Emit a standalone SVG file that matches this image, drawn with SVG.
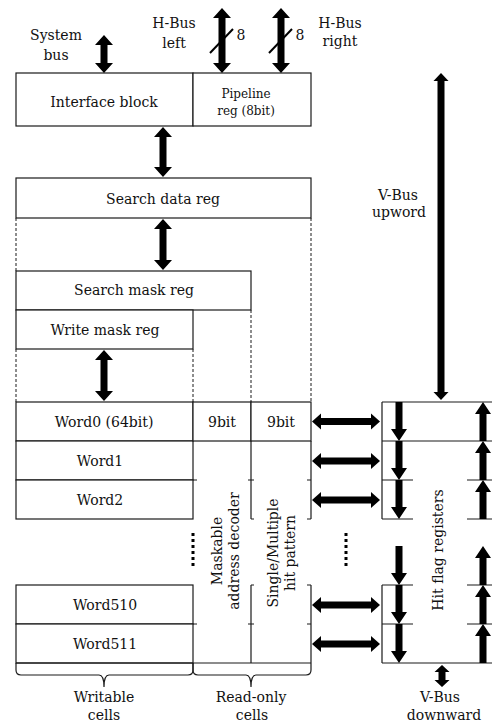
<svg xmlns="http://www.w3.org/2000/svg" xmlns:xlink="http://www.w3.org/1999/xlink" width="492" height="724" viewBox="0 0 492 724">
<style>
  .box { fill: #fff; stroke: #1a1a1a; stroke-width: 1.2; }
  .ln { fill: none; stroke: #1a1a1a; stroke-width: 1.2; }
  .dash { fill: none; stroke: #1a1a1a; stroke-width: 1; stroke-dasharray: 3 2; }
  .dots { fill: none; stroke: #000; stroke-width: 3; stroke-dasharray: 3 3; }
  .arr { fill: #000; stroke: none; }
  .slash { stroke: #000; stroke-width: 2; }
  text { font-family: "DejaVu Serif", "Liberation Serif", serif; font-size: 14px; fill: #111; }
  .c { text-anchor: middle; }
  .sm { font-size: 12px; }
</style>
<defs>
  <path id="harr" d="M0,0 L9,-8 L9,-3.5 L59,-3.5 L59,-8 L68,0 L59,8 L59,3.5 L9,3.5 L9,8 Z"/>
  <path id="darr" d="M-3.5,0 H3.5 V27 H8 L0,39 L-8,27 H-3.5 Z"/>
  <path id="uarr" d="M0,0 L8,12 H3.5 V39 H-3.5 V12 H-8 Z"/>
</defs>
<rect width="492" height="724" fill="#fff"/>

<g id="interface-block">
  <rect class="box" x="16" y="73" width="177" height="53"/>
  <text class="c" x="104" y="107">Interface block</text>
</g>
<g id="pipeline-reg">
  <rect class="box" x="193" y="73" width="118" height="53"/>
  <text class="c sm" x="246" y="98">Pipeline</text>
  <text class="c sm" x="246" y="115">reg (8bit)</text>
</g>
<g id="search-data-reg">
  <rect class="box" x="16" y="178" width="295" height="40"/>
  <text class="c" x="163" y="204">Search data reg</text>
  <line class="dash" x1="16" y1="218" x2="16" y2="271"/>
  <line class="dash" x1="311" y1="218" x2="311" y2="402"/>
</g>
<g id="search-mask-reg">
  <rect class="box" x="16" y="271" width="235" height="39"/>
  <text class="c" x="134" y="295">Search mask reg</text>
  <line class="dash" x1="251" y1="310" x2="251" y2="402"/>
</g>
<g id="write-mask-reg">
  <rect class="box" x="16" y="310" width="177" height="39"/>
  <text class="c" x="105" y="335">Write mask reg</text>
  <line class="dash" x1="16" y1="349" x2="16" y2="402"/>
  <line class="dash" x1="193" y1="349" x2="193" y2="402"/>
</g>

<g id="word-cells">
  <rect class="box" x="16" y="402" width="177" height="39"/>
  <text class="c" x="104" y="427">Word0 (64bit)</text>
  <rect class="box" x="16" y="441" width="177" height="39"/>
  <text class="c" x="100" y="466">Word1</text>
  <rect class="box" x="16" y="480" width="177" height="39"/>
  <text class="c" x="100" y="505">Word2</text>
  <rect class="box" x="16" y="585" width="177" height="39"/>
  <text class="c" x="105" y="610">Word510</text>
  <rect class="box" x="16" y="624" width="177" height="39"/>
  <text class="c" x="105" y="649">Word511</text>
  <line class="dots" x1="193" y1="533" x2="193" y2="569"/>
</g>

<g id="decoder">
  <rect class="box" x="193" y="402" width="58" height="39"/>
  <text class="c" x="222" y="427">9bit</text>
  <line class="ln" x1="251" y1="441" x2="251" y2="519"/>
  <line class="ln" x1="251" y1="585" x2="251" y2="663"/>
  <path class="ln" d="M193,480 H197 M248,480 H254 M251,519 H254 M251,585 H254 M193,624 H197 M248,624 H254"/>
  <text transform="translate(222,551) rotate(-90)" class="c">Maskable</text>
  <text transform="translate(239,551) rotate(-90)" class="c">address decoder</text>
</g>

<g id="hit-pattern">
  <rect class="box" x="251" y="402" width="60" height="39"/>
  <text class="c" x="281" y="427">9bit</text>
  <line class="ln" x1="311" y1="441" x2="311" y2="519"/>
  <line class="ln" x1="311" y1="585" x2="311" y2="663"/>
  <path class="ln" d="M307,480 H311 M307,519 H311 M307,585 H311 M307,624 H311"/>
  <text transform="translate(278,553) rotate(-90)" class="c">Single/Multiple</text>
  <text transform="translate(295,553) rotate(-90)" class="c">hit pattern</text>
</g>

<g id="bottom-rule">
  <line class="ln" x1="16" y1="663" x2="311" y2="663"/>
</g>

<g id="writable-cells">
  <path class="ln" d="M16,663 V670 Q16,675 21,675 H99 Q104,675 104,687 Q104,675 109,675 H188 Q193,675 193,670 V663"/>
  <text class="c" x="104" y="702">Writable</text>
  <text class="c" x="104" y="720">cells</text>
</g>
<g id="read-only-cells">
  <path class="ln" d="M193,663 V670 Q193,675 198,675 H246 Q251,675 251,687 Q251,675 256,675 H306 Q311,675 311,670 V663"/>
  <text class="c" x="251" y="702">Read-only</text>
  <text class="c" x="252" y="720">cells</text>
</g>

<g id="hit-flag-registers">
  <path class="ln" d="M382,402 V519 M382,585 V663 M382,402 H492 M382,441 H492 M382,663 H492 M382,480 H413 M467,480 H492 M382,519 H413 M467,519 H492 M382,585 H413 M467,585 H492 M382,624 H413 M467,624 H492"/>
  <text transform="translate(443,550) rotate(-90)" class="c">Hit flag registers</text>
  <use href="#darr" class="arr" x="399" y="402"/>
  <use href="#darr" class="arr" x="399" y="441"/>
  <use href="#darr" class="arr" x="399" y="480"/>
  <use href="#darr" class="arr" x="399" y="546"/>
  <use href="#darr" class="arr" x="399" y="585"/>
  <use href="#darr" class="arr" x="399" y="624"/>
  <use href="#uarr" class="arr" x="483" y="402"/>
  <use href="#uarr" class="arr" x="483" y="441"/>
  <use href="#uarr" class="arr" x="483" y="480"/>
  <use href="#uarr" class="arr" x="483" y="546"/>
  <use href="#uarr" class="arr" x="483" y="585"/>
  <use href="#uarr" class="arr" x="483" y="624"/>
</g>

<g id="labels">
  <text class="c" x="56" y="40">System</text>
  <text class="c" x="56" y="60">bus</text>
  <text class="c" x="174" y="28">H-Bus</text>
  <text class="c" x="174" y="48">left</text>
  <text class="c" x="241" y="40">8</text>
  <text class="c" x="300" y="40">8</text>
  <text class="c" x="340" y="28">H-Bus</text>
  <text class="c" x="340" y="46">right</text>
  <text class="c" x="398" y="200">V-Bus</text>
  <text class="c" x="399" y="217">upword</text>
  <text class="c" x="440" y="702">V-Bus</text>
  <text class="c" x="444" y="720">downward</text>
  <line class="dots" x1="346" y1="533" x2="346" y2="569"/>
</g>

<g id="connectors">
  <path class="arr" d="M104,35 L113,45 L107.5,45 L107.5,63 L113,63 L104,73 L95,63 L100.5,63 L100.5,45 L95,45 Z"/>
  <path class="arr" d="M222,8 L231,18 L225.5,18 L225.5,63 L231,63 L222,73 L213,63 L218.5,63 L218.5,18 L213,18 Z"/>
  <path class="arr" d="M281,8 L290,18 L284.5,18 L284.5,63 L290,63 L281,73 L272,63 L277.5,63 L277.5,18 L272,18 Z"/>
  <line class="slash" x1="210" y1="53" x2="233" y2="29"/>
  <line class="slash" x1="269" y1="53" x2="292" y2="29"/>
  <path class="arr" d="M163,127 L172,137 L166.5,137 L166.5,167 L172,167 L163,177 L154,167 L159.5,167 L159.5,137 L154,137 Z"/>
  <path class="arr" d="M163,219 L172,229 L166.5,229 L166.5,260 L172,260 L163,270 L154,260 L159.5,260 L159.5,229 L154,229 Z"/>
  <path class="arr" d="M104,350 L113,360 L107.5,360 L107.5,391 L113,391 L104,401 L95,391 L100.5,391 L100.5,360 L95,360 Z"/>
  <path class="arr" d="M441,73 L448.5,81 L444.5,81 L444.5,392 L448.5,392 L441,400 L433.5,392 L437.5,392 L437.5,81 L433.5,81 Z"/>
  <path class="arr" d="M442,665 L449.5,672 L445.5,672 L445.5,680 L449.5,680 L442,687 L434.5,680 L438.5,680 L438.5,672 L434.5,672 Z"/>
  <use href="#harr" class="arr" x="312" y="421.5"/>
  <use href="#harr" class="arr" x="312" y="461"/>
  <use href="#harr" class="arr" x="312" y="500"/>
  <use href="#harr" class="arr" x="312" y="605"/>
  <use href="#harr" class="arr" x="312" y="644"/>
</g>
</svg>
